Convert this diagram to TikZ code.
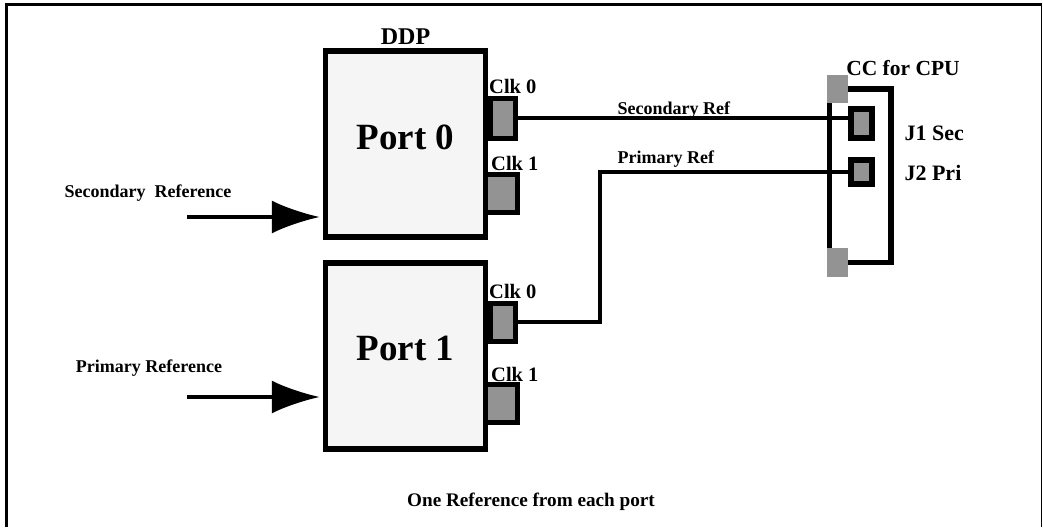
\documentclass[tikz,border=0pt]{standalone}
\usepackage{fontspec}
\setmainfont{Liberation Serif}
\usetikzlibrary{arrows.meta,positioning}
\definecolor{ddpPanel}{HTML}{F5F5F5}
\definecolor{ddpPad}{HTML}{939393}

\begin{document}
\begin{tikzpicture}[x=1pt,y=-1pt, every node/.style={font=\bfseries\fontsize{18}{20}\selectfont},
    port/.style={draw=black, line width=5.5pt, fill=ddpPanel, minimum width=160pt, minimum height=186pt, inner sep=0pt},
    pad/.style={draw=black, line width=5pt, fill=ddpPad, inner sep=0pt},
    jack/.style={draw=black, line width=6pt, fill=ddpPad, minimum width=21pt, inner sep=0pt},
    cornerpad/.style={fill=ddpPad, minimum width=21pt, minimum height=28pt, inner sep=0pt},
    clklbl/.style={inner sep=0pt, font=\bfseries\fontsize{20.5}{22}\selectfont},
    wire/.style={line width=3.5pt},
    refin/.style={line width=3.5pt, -{Latex[length=48pt,width=33pt]}, shorten >=3pt}]
    \useasboundingbox (0,0) rectangle (1043,527);
    % frame
    \draw[line width=3pt] (6.5,527) -- (6.5,4.7) -- (1041.8,4.7);
    \draw[line width=1.3pt] (1041.8,4.7) -- (1041.8,527);
    % ports
    \node[port] (port0) at (405.5,144) {};
    \node[port] (port1) at (405.5,356) {};
    \node[font=\bfseries\fontsize{37}{39}\selectfont] (port0txt) at ([yshift=7pt]port0.center) {Port 0};
    \node[font=\bfseries\fontsize{37}{39}\selectfont] (port1txt) at ([yshift=8pt]port1.center) {Port 1};
    \node[font=\bfseries\fontsize{24}{26}\selectfont, above=0pt of port0] (ddp) {DDP};
    % clock pads
    \node[pad, minimum width=25pt, minimum height=40pt] (clka0) at (503,118) {};
    \node[pad, minimum width=32pt, minimum height=38pt] (clka1) at (501.5,193.5) {};
    \node[pad, minimum width=25pt, minimum height=38pt] (clkb0) at (503,322) {};
    \node[pad, minimum width=32pt, minimum height=38pt] (clkb1) at (501.5,403.5) {};
    \node[clklbl, above right=2pt and 1pt of clka0.north west] (clka0lbl) {Clk 0};
    \node[clklbl, above right=1pt and 8pt of clka1.north west] (clka1lbl) {Clk 1};
    \node[clklbl, above right=2pt and 1pt of clkb0.north west] (clkb0lbl) {Clk 0};
    \node[clklbl, above right=0pt and 8pt of clkb1.north west] (clkb1lbl) {Clk 1};
    % CC for CPU
    \node[cornerpad] (cctop) at (837.5,89) {};
    \node[cornerpad, minimum height=29pt] (ccbot) at (837.5,262.5) {};
    \draw[line width=5pt] ([xshift=2.5pt]cctop.south west) -- ([xshift=2.5pt]ccbot.north west);
    \draw[line width=5.5pt] (cctop.east) -- ++(43,0) |- (ccbot.east);
    \node[jack, minimum height=29pt] (jone) at (861.5,123) {};
    \node[jack, minimum height=24pt] (jtwo) at (861.5,172) {};
    \node[font=\bfseries\fontsize{21.5}{23}\selectfont] (cclbl) at (903,68) {CC for CPU};
    \node[anchor=west, font=\bfseries\fontsize{22}{24}\selectfont] (jonelbl) at (901,133) {J1 Sec};
    \node[anchor=west, font=\bfseries\fontsize{22}{24}\selectfont] (jtwolbl) at (901,173) {J2 Pri};
    % references
    \coordinate (bend) at (600,322);
    \draw[wire] (clka0.east) -- (clka0.east -| jone.west);
    \draw[wire] (clkb0.east) -- (bend) |- (jtwo.west);
    \node[anchor=west] (secreflbl) at (614,110) {Secondary Ref};
    \node[anchor=west] (prireflbl) at (614,159) {Primary Ref};
    % inputs
    \coordinate (secsrc) at (187,217);
    \coordinate (prisrc) at (187,397);
    \draw[refin] (secsrc) -- (secsrc -| port0.west);
    \draw[refin] (prisrc) -- (prisrc -| port1.west);
    \node (secname) at (148,193) {Secondary\ \ Reference};
    \node (priname) at (149,368) {Primary Reference};
    \node[font=\bfseries\fontsize{19.2}{21}\selectfont] (note) at (531,502) {One Reference from each port};
\end{tikzpicture}
\end{document}
